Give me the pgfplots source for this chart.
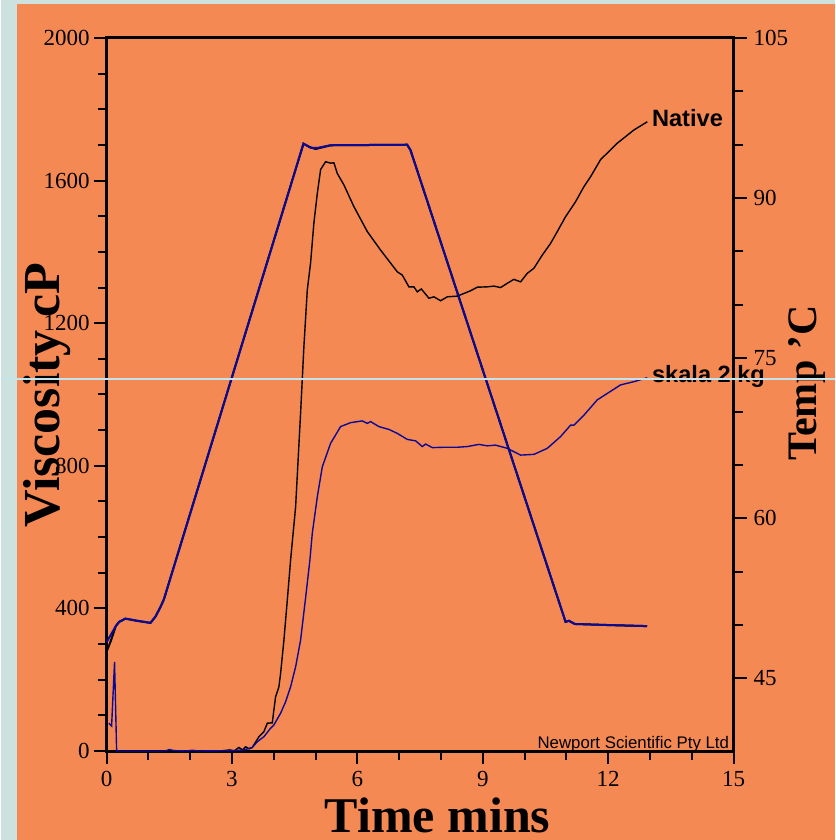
\documentclass[border=0pt]{standalone}
\usepackage{fontspec}
\setmainfont{Liberation Serif}
\newfontfamily\arial{Liberation Sans}
\usepackage{pgfplots}
\pgfplotsset{compat=1.18}

\definecolor{bgorange}{RGB}{245,137,84}
\definecolor{photo}{RGB}{205,225,222}
\definecolor{navy}{RGB}{10,10,150}
\definecolor{scanline}{RGB}{195,228,236}

\pgfplotsset{rva/.style={
    scale only axis,
    width=313.5pt, height=356.5pt,
    at={(0pt,0pt)}, anchor=south west,
    xmin=0, xmax=15,
    axis line style={-, line width=1.5pt},
    tick style={line width=1pt, black},
    tick align=outside,
    major tick length=6.5pt, minor tick length=4.5pt,
    tick label style={font=\fontsize{11.5}{13}\selectfont},
    /pgf/number format/assume math mode=true,
    /pgf/number format/1000 sep={},
    scaled ticks=false,
    clip=false,
}}

\begin{document}
\begin{tikzpicture}
% page background (scan of a slide)
\fill[photo] (-53pt,-44.5pt) rectangle (364pt,375.5pt);
\fill[bgorange] (-45pt,-44.5pt) rectangle (364pt,373.5pt);

% viscosity, left axis
\begin{axis}[rva,
    ymin=0, ymax=2000,
    xtick={0,3,...,15}, minor x tick num=2,
    ytick={0,400,...,2000}, minor y tick num=3,
    xtick pos=bottom, ytick pos=left,
    yticklabel style={anchor=east, xshift=1.5pt},
]
\addplot[black, line width=0.7pt] coordinates {
    (0.24,0) (1.5,0) (2.7,0) (2.95,3) (3.05,0) (3.165,10) (3.25,3) (3.325,12)
    (3.41,6) (3.486,10) (3.644,40) (3.763,54) (3.845,78) (3.964,79) (4.002,115)
    (4.043,152) (4.122,180) (4.163,218) (4.242,311) (4.323,423) (4.402,536)
    (4.522,685) (4.641,948) (4.720,1134) (4.801,1293) (4.880,1369) (4.959,1481)
    (5.041,1564) (5.120,1631) (5.239,1653) (5.359,1649) (5.438,1650) (5.519,1620)
    (5.677,1588) (5.916,1527) (6.237,1457) (6.555,1405) (6.955,1344) (7.074,1335)
    (7.232,1302) (7.352,1302) (7.433,1288) (7.529,1296) (7.711,1270) (7.830,1274)
    (7.990,1263) (8.151,1274) (8.390,1276) (8.708,1291) (8.868,1301) (9.108,1302)
    (9.266,1304) (9.426,1300) (9.586,1312) (9.744,1323) (9.904,1316) (10.065,1340)
    (10.222,1354) (10.423,1391) (10.622,1424) (10.782,1457) (10.981,1499)
    (11.220,1541) (11.419,1583) (11.579,1611) (11.818,1659) (12.218,1705)
    (12.615,1742) (12.935,1765)
};
\addplot[navy, line width=0.7pt] coordinates {
    (0.055,78) (0.12,70) (0.19,250) (0.24,0) (1.4,0) (1.5,4) (1.62,1) (1.9,0)
    (2.05,2) (2.2,0) (3.007,1) (3.285,3) (3.486,10) (3.605,26) (3.763,40)
    (3.923,64) (4.002,73) (4.163,106) (4.282,138) (4.402,180) (4.522,236)
    (4.641,311) (4.761,430) (4.864,536) (4.921,611) (5.041,713) (5.160,797)
    (5.359,863) (5.598,910) (5.837,921) (6.117,926) (6.237,919) (6.316,924)
    (6.514,910) (6.754,902) (6.954,891) (7.194,874) (7.392,870) (7.553,854)
    (7.632,861) (7.792,851) (8.069,852) (8.390,852) (8.629,854) (8.907,860)
    (9.108,856) (9.306,858) (9.586,849) (9.904,830) (10.222,832) (10.543,849)
    (10.861,882) (11.100,914) (11.179,914) (11.419,942) (11.739,985)
    (12.297,1027) (12.615,1036) (12.935,1047)
};
\node[anchor=west, inner sep=0pt, font=\arial\bfseries\fontsize{11.8}{13}\selectfont]
    at (axis cs:13.04,1776) {Native};
\node[anchor=west, inner sep=0pt, font=\arial\bfseries\fontsize{11.8}{13}\selectfont]
    at (axis cs:13.04,1052) {skala 2 kg};
\node[anchor=base east, inner sep=0pt, font=\arial\fontsize{8.4}{10}\selectfont]
    at (axis cs:14.9,8) {Newport Scientific Pty Ltd};
\end{axis}

% temperature, right axis
\begin{axis}[rva,
    ymin=38.2, ymax=105,
    axis x line=none, axis y line*=right,
    ytick={45,60,...,105}, minor y tick num=2,
    yticklabel pos=right,
]
\addplot[black, line width=1pt] coordinates {
    (0,47.5) (0.1,48.5) (0.22,49.9) (0.30,50.3) (0.45,50.6) (0.73,50.4)
    (1.05,50.2) (1.17,50.8) (1.29,51.7) (1.37,52.4) (4.71,95.1) (4.85,94.8)
    (5.0,94.6) (5.36,94.95) (7.19,95.0) (7.27,94.5) (10.98,50.3) (11.06,50.4)
    (11.2,50.1) (12.0,50.0) (12.93,49.9)
};
\addplot[navy, line width=1pt] coordinates {
    (0,48.4) (0.22,49.9) (0.30,50.3) (0.45,50.6) (0.73,50.4) (1.05,50.2)
    (1.17,50.8) (1.29,51.7) (1.37,52.4) (4.71,95.1) (4.89,94.7) (5.04,94.7)
    (5.36,94.95) (7.19,95.0) (7.27,94.5) (10.98,50.3) (11.06,50.4) (11.2,50.1)
    (12.0,50.0) (12.93,49.9)
};
\end{axis}

% axis titles
\node[rotate=90, font=\bfseries\fontsize{26}{30}\selectfont] at (-30pt,178pt) {Viscosity cP};
\node[rotate=90, font=\bfseries\fontsize{21}{25}\selectfont] at (350pt,184pt) {Temp 'C};
\node[inner sep=0pt, anchor=base, font=\bfseries\fontsize{25}{29}\selectfont] at (165.5pt,-40.5pt) {Time mins};

% thin scan line across the slide
\draw[scanline, line width=0.6pt] (-53pt,186pt) -- (364pt,186pt);
\end{tikzpicture}
\end{document}
